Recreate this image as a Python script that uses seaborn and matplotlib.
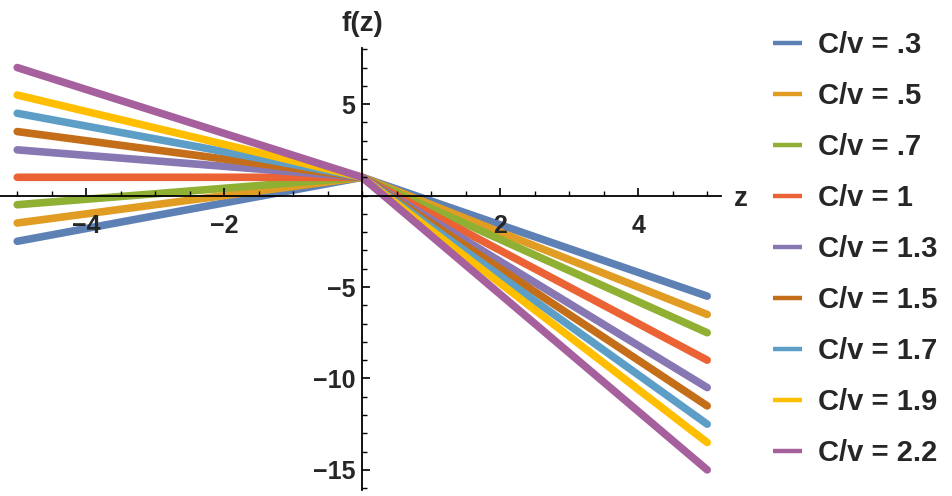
import pandas as pd
import matplotlib.pyplot as plt
import seaborn as sns
from matplotlib.ticker import MultipleLocator

sns.set_theme(style="white")
plt.rcParams['font.family'] = ['Liberation Sans', 'DejaVu Sans']
plt.rcParams['font.weight'] = 'bold'

# values: f(z) at z = -5, 0, 5 for each C/v
cv_labels = [".3", ".5", ".7", "1", "1.3", "1.5", "1.7", "1.9", "2.2"]
z_points = [-5, 0, 5]
f_left = [-2.5, -1.5, -0.5, 1, 2.5, 3.5, 4.5, 5.5, 7]
f_mid = [1, 1, 1, 1, 1, 1, 1, 1, 1]
f_right = [-5.5, -6.5, -7.5, -9, -10.5, -11.5, -12.5, -13.5, -15]
colors = ['#5E81B5', '#E19C24', '#8FB032', '#EB6235', '#8778B3',
          '#C56E1A', '#5D9EC7', '#FFBF00', '#A5609D']

rows = []
for lab, a, b, c in zip(cv_labels, f_left, f_mid, f_right):
    for z, f in zip(z_points, [a, b, c]):
        rows.append({'z': z, 'f': f, 'series': f"C/v = {lab}"})
df = pd.DataFrame(rows)
order = [f"C/v = {lab}" for lab in cv_labels]

fig = plt.figure(figsize=(9.53, 4.96), dpi=100)
ax = fig.add_axes([0.0, 6 / 496, 721 / 953, 442 / 496])
ax.set_facecolor('none')
ax.set_axisbelow(False)

sns.lineplot(data=df, x='z', y='f', hue='series', hue_order=order,
             palette=colors, linewidth=5.5, solid_capstyle='round', ax=ax)

ax.set_xlim(-5.25, 5.2)
ax.set_ylim(-16.1, 8.07)

ax.spines['left'].set_position(('data', 0))
ax.spines['bottom'].set_position(('data', 0))
ax.spines['top'].set_visible(False)
ax.spines['right'].set_visible(False)
for s in ['left', 'bottom']:
    ax.spines[s].set_color('black')
    ax.spines[s].set_linewidth(1.3)
    ax.spines[s].set_zorder(2.5)

ax.set_xticks([-4, -2, 2, 4])
ax.set_yticks([5, -5, -10, -15])
ax.xaxis.set_minor_locator(MultipleLocator(0.5))
ax.yaxis.set_minor_locator(MultipleLocator(1))
ax.tick_params(which='major', direction='in', length=6, width=1.2, color='black',
               labelsize=18, bottom=True, left=True)
ax.tick_params(axis='x', which='major', pad=13)
ax.tick_params(axis='y', which='major', pad=5)
ax.tick_params(which='minor', direction='in', length=3.5, width=1, color='black',
               bottom=True, left=True)
for t in ax.get_xticklabels() + ax.get_yticklabels():
    t.set_fontweight('bold')
ax.set_xlabel('')
ax.set_ylabel('')

fig.text(362 / 953, 1 - 24 / 496, 'f(z)', ha='center', va='center',
         fontsize=20, fontweight='bold')
fig.text(741 / 953, 1 - 199 / 496, 'z', ha='center', va='center',
         fontsize=20, fontweight='bold')

handles, labels = ax.get_legend_handles_labels()
leg = ax.legend(handles, labels, loc='upper left',
                bbox_to_anchor=(773 / 953, 1 - 31 / 496),
                bbox_transform=fig.transFigure, frameon=False,
                prop={'size': 21, 'weight': 'bold'},
                borderpad=0, borderaxespad=0, handlelength=1.0,
                handletextpad=0.55, labelspacing=0.79)
for ln in leg.get_lines():
    ln.set_linewidth(3.2)
    ln.set_solid_capstyle('butt')

fig.savefig('out.png', dpi=100)
